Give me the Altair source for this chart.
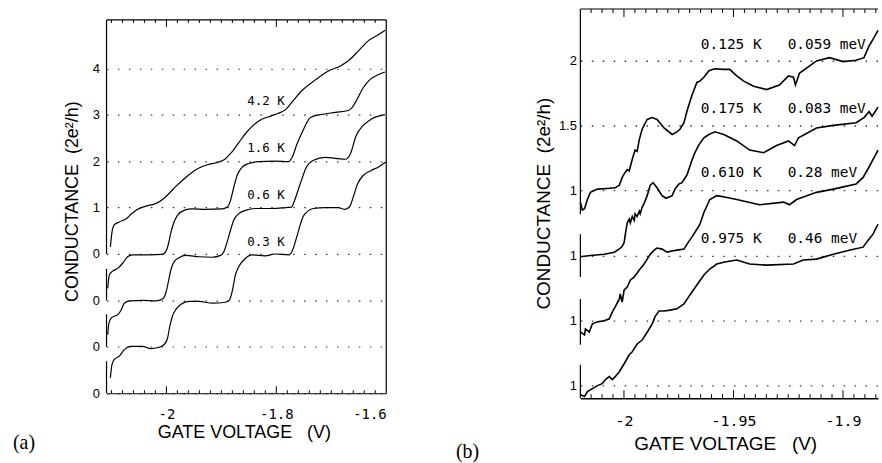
import altair as alt
import pandas as pd

# ======================= panel (a) data =======================
A_TEMPS = ["0.3 K", "0.6 K", "1.6 K", "4.2 K"]
A_OFFSETS = [0, 1, 2, 3]

A_V_03 = [-2.1020, -2.0990, -2.0948, -2.0857, -2.0766, -2.0646, -2.0435, -2.0283, -2.0132, -2.0042,
          -1.9981, -1.9939, -1.9891, -1.9830, -1.9740, -1.9589, -1.9408, -1.9166, -1.8925, -1.8852,
          -1.8804, -1.8744, -1.8683, -1.8593, -1.8442, -1.8201, -1.8020, -1.7778, -1.7705, -1.7645,
          -1.7567, -1.7506, -1.7325, -1.7114, -1.6872, -1.6751, -1.6661, -1.6600, -1.6522, -1.6419,
          -1.6268, -1.6147, -1.6009]
A_G_03 = [0.335, 0.62, 0.73, 0.80, 0.94, 1.01, 1.01, 0.96, 0.99, 1.05,
          1.18, 1.44, 1.66, 1.80, 1.91, 1.98, 1.98, 1.94, 1.96, 2.01,
          2.19, 2.55, 2.73, 2.87, 2.98, 2.96, 3.00, 2.98, 3.08, 3.30,
          3.62, 3.82, 3.98, 4.00, 4.00, 3.96, 4.03, 4.23, 4.51, 4.69,
          4.80, 4.87, 4.98]

A_V_06 = [-2.1068, -2.1050, -2.1002, -2.0948, -2.0887, -2.0821, -2.0766, -2.0676, -2.0434, -2.0193,
          -2.0072, -2.0011, -1.9963, -1.9921, -1.9861, -1.9770, -1.9649, -1.9408, -1.9166, -1.9015,
          -1.8955, -1.8895, -1.8834, -1.8774, -1.8683, -1.8562, -1.8382, -1.8080, -1.7826, -1.7724,
          -1.7669, -1.7597, -1.7525, -1.7470, -1.7325, -1.7108, -1.6927, -1.6745, -1.6655, -1.6546,
          -1.6419, -1.6278, -1.6024]
A_G_06 = [0.26, 0.49, 0.62, 0.66, 0.69, 0.80, 0.94, 0.99, 1.00, 0.99,
          1.03, 1.16, 1.41, 1.65, 1.83, 1.92, 1.97, 1.94, 1.93, 1.97,
          2.05, 2.26, 2.51, 2.73, 2.87, 2.94, 2.98, 2.98, 3.00, 3.01,
          3.15, 3.40, 3.65, 3.83, 4.02, 4.08, 4.06, 4.04, 4.15, 4.55,
          4.77, 4.90, 5.00]

A_V_16 = [-2.1068, -2.1038, -2.0978, -2.0887, -2.0797, -2.0706, -2.0616, -2.0313, -2.0072, -2.0011,
          -1.9963, -1.9921, -1.9872, -1.9800, -1.9679, -1.9529, -1.9287, -1.8985, -1.8895, -1.8834,
          -1.8774, -1.8714, -1.8623, -1.8502, -1.8321, -1.8019, -1.7778, -1.7705, -1.7633, -1.7506,
          -1.7379, -1.7198, -1.6927, -1.6691, -1.6630, -1.6564, -1.6419, -1.6292, -1.6147, -1.6024]
A_G_16 = [0.26, 0.55, 0.63, 0.69, 0.80, 0.94, 0.98, 0.98, 0.99, 1.05,
          1.22, 1.45, 1.65, 1.83, 1.94, 1.97, 1.96, 1.97, 2.01, 2.15,
          2.44, 2.69, 2.87, 2.95, 2.99, 3.00, 2.99, 3.10, 3.34, 3.68,
          3.94, 4.00, 4.05, 4.09, 4.14, 4.26, 4.58, 4.76, 4.86, 4.92]

A_V_42 = [-2.1020, -2.0989, -2.0947, -2.0857, -2.0730, -2.0640, -2.0531, -2.0368, -2.0187, -2.0042,
          -1.9915, -1.9824, -1.9697, -1.9553, -1.9408, -1.9226, -1.9045, -1.8937, -1.8828, -1.8683,
          -1.8556, -1.8411, -1.8266, -1.8103, -1.7958, -1.7832, -1.7723, -1.7542, -1.7288, -1.7053,
          -1.6835, -1.6690, -1.6509, -1.6328, -1.6147, -1.6020]
A_G_42 = [0.15, 0.48, 0.63, 0.69, 0.76, 0.86, 0.96, 1.03, 1.09, 1.20,
          1.35, 1.46, 1.60, 1.74, 1.85, 1.93, 1.98, 2.04, 2.17, 2.40,
          2.60, 2.78, 2.90, 2.97, 3.03, 3.11, 3.26, 3.51, 3.75, 3.94,
          4.05, 4.16, 4.37, 4.59, 4.72, 4.82]

A_LABEL_V = [-1.819, -1.819, -1.819, -1.819]
A_LABEL_G = [3.25, 3.26, 3.29, 3.30]

A_XDOMAIN = [-2.109, -1.6]
A_FRAME_TOP = 8.04            # value at the top edge of the frame
A_YDOMAIN = [0, 8.276]        # a little head room above the frame
A_XTICK_VALUES = [-2.0, -1.8, -1.6]
A_XTICK_LABELS = ["-2", "-1.8", "-1.6"]
A_XTICK_MINOR = [-2.1, -2.08, -2.06, -2.04, -2.02, -1.98, -1.96, -1.94, -1.92, -1.9,
                 -1.88, -1.86, -1.84, -1.82, -1.78, -1.76, -1.74, -1.72, -1.7, -1.68,
                 -1.66, -1.64, -1.62]
A_XTICK_MAJOR = [-2.0, -1.8]
A_YTICK_VALUES = [0, 1, 2, 3, 4, 5, 6, 7]
A_YTICK_LABELS = ["0", "0", "0", "0", "1", "2", "3", "4"]
A_SEG_LO = [0.0, 1.0, 2.0, 3.0]
A_SEG_HI = [0.69, 1.70, 2.68, 8.04]

# ======================= panel (b) data =======================
B_TEMPS = ["0.975 K", "0.610 K", "0.175 K", "0.125 K"]
B_ENERGY = ["0.46 meV", "0.28 meV", "0.083 meV", "0.059 meV"]
B_OFFSETS = [0.0, 0.5, 1.0, 1.5]

B_V_0975 = [-2.0199, -2.0180, -2.0167, -2.0144, -2.0121, -2.0099, -2.0085, -2.0067, -2.0053, -2.0040,
            -2.0021, -1.9999, -1.9976, -1.9962, -1.9940, -1.9917, -1.9894, -1.9871, -1.9858, -1.9840,
            -1.9817, -1.9790, -1.9758, -1.9726, -1.9699, -1.9667, -1.9635, -1.9608, -1.9576, -1.9540,
            -1.9485, -1.9426, -1.9349, -1.9226, -1.9181, -1.9121, -1.9044, -1.8972, -1.8908, -1.8885,
            -1.8863, -1.8840]
B_G_0975 = [0.93, 0.916, 0.954, 0.977, 1.0, 1.015, 1.046, 1.069, 1.046, 1.069,
            1.107, 1.168, 1.237, 1.26, 1.32, 1.35, 1.41, 1.475, 1.53, 1.574,
            1.574, 1.58, 1.59, 1.628, 1.697, 1.773, 1.85, 1.896, 1.934, 1.95,
            1.965, 1.934, 1.926, 1.934, 1.965, 1.972, 2.01, 2.04, 2.064, 2.118,
            2.164, 2.24]

B_V_0610 = [-2.0199, -2.0180, -2.0176, -2.0158, -2.0144, -2.0121, -2.0090, -2.0067, -2.0053, -2.0040,
            -2.0021, -2.0017, -2.0008, -1.9999, -1.9985, -1.9971, -1.9953, -1.9930, -1.9908, -1.9894,
            -1.9880, -1.9862, -1.9849, -1.9826, -1.9803, -1.9780, -1.9758, -1.9726, -1.9712, -1.9690,
            -1.9667, -1.9653, -1.9635, -1.9608, -1.9576, -1.9540, -1.9485, -1.9381, -1.9271, -1.9244,
            -1.9212, -1.9121, -1.9044, -1.8940, -1.8908, -1.8881, -1.8840]
B_G_0610 = [0.913, 0.89, 0.936, 0.913, 0.975, 0.99, 0.998, 1.013, 1.067, 1.105,
            1.166, 1.204, 1.143, 1.235, 1.258, 1.31, 1.335, 1.388, 1.434, 1.472,
            1.51, 1.541, 1.557, 1.549, 1.526, 1.534, 1.541, 1.549, 1.587, 1.641,
            1.702, 1.74, 1.83, 1.93, 1.96, 1.95, 1.93, 1.89, 1.91, 1.89,
            1.93, 1.985, 2.01, 2.05, 2.10, 2.18, 2.31]

B_V_0175 = [-2.0199, -2.0153, -2.0090, -2.0044, -2.0021, -2.0008, -1.9999, -1.9994, -1.9985, -1.9976,
            -1.9971, -1.9962, -1.9953, -1.9949, -1.9940, -1.9930, -1.9926, -1.9917, -1.9908, -1.9894,
            -1.9880, -1.9867, -1.9849, -1.9826, -1.9808, -1.9780, -1.9767, -1.9749, -1.9735, -1.9712,
            -1.9690, -1.9676, -1.9658, -1.9635, -1.9612, -1.9585, -1.9544, -1.9485, -1.9426, -1.9362,
            -1.9303, -1.9249, -1.9221, -1.9203, -1.9121, -1.9044, -1.8940, -1.8904, -1.8881, -1.8867,
            -1.8840]
B_G_0175 = [0.99, 1.00, 1.01, 1.025, 1.05, 1.07, 1.10, 1.16, 1.25, 1.28,
            1.25, 1.30, 1.27, 1.32, 1.30, 1.34, 1.32, 1.37, 1.40, 1.46,
            1.54, 1.56, 1.52, 1.46, 1.44, 1.46, 1.51, 1.55, 1.56, 1.62,
            1.73, 1.79, 1.85, 1.905, 1.93, 1.95, 1.93, 1.88, 1.81, 1.79,
            1.845, 1.88, 1.845, 1.905, 1.98, 2.00, 2.02, 2.06, 2.105, 2.07,
            2.14]

B_V_0125 = [-2.0199, -2.0190, -2.0180, -2.0167, -2.0153, -2.0121, -2.0076, -2.0040, -2.0021, -2.0008,
            -1.9994, -1.9985, -1.9976, -1.9962, -1.9949, -1.9940, -1.9930, -1.9917, -1.9894, -1.9871,
            -1.9849, -1.9817, -1.9780, -1.9758, -1.9744, -1.9726, -1.9712, -1.9690, -1.9667, -1.9653,
            -1.9635, -1.9612, -1.9585, -1.9544, -1.9517, -1.9485, -1.9453, -1.9408, -1.9349, -1.9290,
            -1.9249, -1.9226, -1.9217, -1.9199, -1.9121, -1.9062, -1.8999, -1.8940, -1.8904, -1.8881,
            -1.8863, -1.8840]
B_G_0125 = [0.91, 0.85, 0.86, 0.93, 0.985, 1.01, 1.015, 1.02, 1.04, 1.10,
            1.14, 1.16, 1.15, 1.24, 1.31, 1.30, 1.39, 1.47, 1.545, 1.56,
            1.545, 1.48, 1.43, 1.45, 1.47, 1.52, 1.61, 1.73, 1.83, 1.84,
            1.87, 1.92, 1.935, 1.93, 1.93, 1.88, 1.84, 1.80, 1.775, 1.81,
            1.88, 1.87, 1.81, 1.90, 1.995, 2.02, 1.99, 2.00, 2.02, 2.11,
            2.16, 2.23]

B_LABEL_V = [-1.9649, -1.9649, -1.9649, -1.9649]
B_LABEL_G = [2.126, 2.131, 2.129, 2.119]

B_XDOMAIN = [-2.0199, -1.8840]
B_FRAME_TOP = 3.894
B_YDOMAIN = [0.903, 3.894]
B_XTICK_VALUES = [-2.0, -1.95, -1.9]
B_XTICK_LABELS = ["-2", "-1.95", "-1.9"]
B_XTICK_MINOR = [-2.015, -2.01, -2.005, -1.995, -1.99, -1.985, -1.98, -1.975, -1.97, -1.965,
                 -1.96, -1.955, -1.945, -1.94, -1.935, -1.93, -1.925, -1.92, -1.915, -1.91,
                 -1.905, -1.895, -1.89, -1.885]
B_XTICK_MAJOR = [-2.0, -1.95, -1.9]
B_YTICK_VALUES = [1.0, 1.5, 2.0, 2.5, 3.0, 3.5]
B_YTICK_LABELS = ["1", "1", "1", "1", "1.5", "2"]
B_SEG_LO = [0.903, 1.314, 1.835, 2.317]
B_SEG_HI = [1.161, 1.666, 2.164, 3.894]

# ======================= helpers =======================
MONO = "DejaVu Sans Mono"
SANS = "Liberation Sans"
SERIF = "Liberation Serif"
NB = "\u00a0"


def label_expr(values, labels):
    expr = "''"
    for v, l in reversed(list(zip(values, labels))):
        expr = f"abs(datum.value - ({v})) < 1e-6 ? '{l}' : {expr}"
    return expr


def lines_frame(names, offsets, vs_list, gs_list, lw, minor, major, tick_min, tick_maj,
                ydom, frame_top, H):
    """Curves (offset) plus inward frame tick marks, each as its own two-point path."""
    rows = []
    for name, off, vs, gs in zip(names, offsets, vs_list, gs_list, strict=True):
        for v, g in zip(vs, gs, strict=True):
            rows.append({"curve": name, "V": v, "Y": g + off, "w": lw})
    per_px = (ydom[1] - ydom[0]) / H
    k = 0
    for vals, ln in ((minor, tick_min), (major, tick_maj)):
        for t in vals:
            for a, b in ((ydom[0], ydom[0] + ln * per_px),
                         (frame_top - ln * per_px, frame_top)):
                rows.append({"curve": f"tick{k}", "V": t, "Y": a, "w": 1.0})
                rows.append({"curve": f"tick{k}", "V": t, "Y": b, "w": 1.0})
                k += 1
    return pd.DataFrame(rows)


ONE = pd.DataFrame({"k": [0]})


def panel(df, lab_df, xdom, ydom, frame_top, W, H, x_axis, y_axis, interp,
          label_font, label_size, label_align, seg_lo, seg_hi, right_frame,
          tag, tag_x, tag_y, ext_right):
    xs = alt.Scale(domain=xdom, nice=False, zero=False)
    ys = alt.Scale(domain=ydom, nice=False, zero=False)
    X = lambda f: alt.X(f, scale=xs, axis=x_axis)
    Y = lambda f: alt.Y(f, scale=ys, axis=y_axis)
    layers = []
    layers.append(
        alt.Chart(df).mark_line(color="black", interpolate=interp).encode(
            x=X("V:Q"), y=Y("Y:Q"), detail="curve:N",
            strokeWidth=alt.StrokeWidth("w:Q", scale=None, legend=None)))
    layers.append(
        alt.Chart(lab_df).mark_text(font=label_font, fontSize=label_size, align=label_align,
                                    baseline="middle", color="black").encode(
            x=X("V:Q"), y=Y("Y:Q"), text="label:N"))
    seg = pd.DataFrame({"lo": seg_lo, "hi": seg_hi})
    layers.append(alt.Chart(seg).mark_rule(color="black", strokeWidth=1.2).encode(
        x=alt.value(0), y=Y("lo:Q"), y2="hi:Q"))
    fr = pd.DataFrame({"x0": [xdom[0]], "x1": [xdom[1]], "y0": [ydom[0]], "y1": [frame_top]})
    layers.append(alt.Chart(fr).mark_rule(color="black", strokeWidth=1.2).encode(
        x=X("x0:Q"), x2="x1:Q", y=Y("y1:Q")))
    if right_frame:
        layers.append(alt.Chart(fr).mark_rule(color="black", strokeWidth=1.2).encode(
            x=X("x1:Q"), y=Y("y0:Q"), y2="y1:Q"))
    layers.append(alt.Chart(ONE).mark_rule(strokeOpacity=0, color="white").encode(
        x=alt.value(0), x2=alt.value(ext_right), y=alt.value(H - 20)))
    layers.append(alt.Chart(ONE).mark_text(font=SERIF, fontSize=20, align="left",
                                           baseline="alphabetic", color="black").encode(
        x=alt.value(tag_x), y=alt.value(tag_y), text=alt.value(tag)))
    return alt.layer(*layers).properties(width=W, height=H)


# ======================= panel (a) =======================
WA, HA = 281, 386
TOPA = 11   # frame top sits 11 px below the panel's top
df_a = lines_frame(A_TEMPS, A_OFFSETS, [A_V_03, A_V_06, A_V_16, A_V_42],
                   [A_G_03, A_G_06, A_G_16, A_G_42], 1.2, A_XTICK_MINOR, A_XTICK_MAJOR,
                   3, 7, A_YDOMAIN, A_FRAME_TOP, HA)
lab_a = pd.DataFrame({"V": A_LABEL_V,
                      "Y": [g + o for g, o in zip(A_LABEL_G, A_OFFSETS)],
                      "label": [t.replace(" ", NB) for t in A_TEMPS]})

x_axis_a = alt.Axis(values=A_XTICK_VALUES, labelExpr=label_expr(A_XTICK_VALUES, A_XTICK_LABELS),
                    ticks=False, tickSize=0, grid=False, domain=True, domainColor="black",
                    domainWidth=1.2, labelFont=MONO, labelFontSize=14, labelColor="black",
                    labelPadding=14, title=f"GATE VOLTAGE{NB*3}(V)", titleFont=SANS,
                    titleFontSize=18, titleFontWeight="normal", titleColor="black",
                    titleX=138, titleY=39.5, titleBaseline="middle")
y_axis_a = alt.Axis(values=A_YTICK_VALUES, labelExpr=label_expr(A_YTICK_VALUES, A_YTICK_LABELS),
                    ticks=False, tickSize=0, domain=False, grid=True, gridDash=[1.5, 9.5],
                    gridColor="#333333", gridWidth=1.2, labelFont=SANS, labelFontSize=13,
                    labelColor="black", labelPadding=7, title=f"CONDUCTANCE{NB*2}(2e²/h)",
                    titleFont=SANS, titleFontSize=18, titleFontWeight="normal",
                    titleColor="black", titleX=-34.5, titleY=182 + TOPA, titleBaseline="middle")

panel_a = panel(df_a, lab_a, A_XDOMAIN, A_YDOMAIN, A_FRAME_TOP, WA, HA, x_axis_a, y_axis_a,
                "monotone", MONO, 12.5, "center", A_SEG_LO, A_SEG_HI, True,
                "(a)", -94, HA + 56, 311)

# ======================= panel (b) =======================
WB, HB = 299, 391
df_b = lines_frame(B_TEMPS, B_OFFSETS, [B_V_0975, B_V_0610, B_V_0175, B_V_0125],
                   [B_G_0975, B_G_0610, B_G_0175, B_G_0125], 1.6, B_XTICK_MINOR, B_XTICK_MAJOR,
                   4, 8, B_YDOMAIN, B_FRAME_TOP, HB)
lab_b = pd.DataFrame({"V": B_LABEL_V,
                      "Y": [g + o for g, o in zip(B_LABEL_G, B_OFFSETS)],
                      "label": [f"{t}{NB*3}{e}".replace(" ", NB) for t, e in zip(B_TEMPS, B_ENERGY)]})

x_axis_b = alt.Axis(values=B_XTICK_VALUES, labelExpr=label_expr(B_XTICK_VALUES, B_XTICK_LABELS),
                    ticks=False, tickSize=0, grid=False, domain=True, domainColor="black",
                    domainWidth=1.4, labelFont=MONO, labelFontSize=15, labelColor="black",
                    labelPadding=15, title=f"GATE VOLTAGE{NB*3}(V)", titleFont=SANS,
                    titleFontSize=19, titleFontWeight="normal", titleColor="black",
                    titleX=145.5, titleY=45.5, titleBaseline="middle")
y_axis_b = alt.Axis(values=B_YTICK_VALUES, labelExpr=label_expr(B_YTICK_VALUES, B_YTICK_LABELS),
                    ticks=False, tickSize=0, domain=False, grid=True, gridDash=[1.5, 9.5],
                    gridColor="#333333", gridWidth=1.3, labelFont=SANS, labelFontSize=13,
                    labelColor="black", labelPadding=4, title=f"CONDUCTANCE{NB*2}(2e²/h)",
                    titleFont=SANS, titleFontSize=19, titleFontWeight="normal",
                    titleColor="black", titleX=-37, titleY=195, titleBaseline="middle")

panel_b = panel(df_b, lab_b, B_XDOMAIN, B_YDOMAIN, B_FRAME_TOP, WB, HB, x_axis_b, y_axis_b,
                "linear", MONO, 14.5, "left", B_SEG_LO, B_SEG_HI, False,
                "(b)", -125, HB + 60, 0)

chart = (
    alt.hconcat(panel_a, panel_b, spacing=40)
    .properties(padding={"left": 13, "top": 6, "right": 0, "bottom": 0},
                background="white")
    .configure_view(stroke=None)
)

chart.save("out.html", embed_options={"renderer": "svg", "actions": False})
